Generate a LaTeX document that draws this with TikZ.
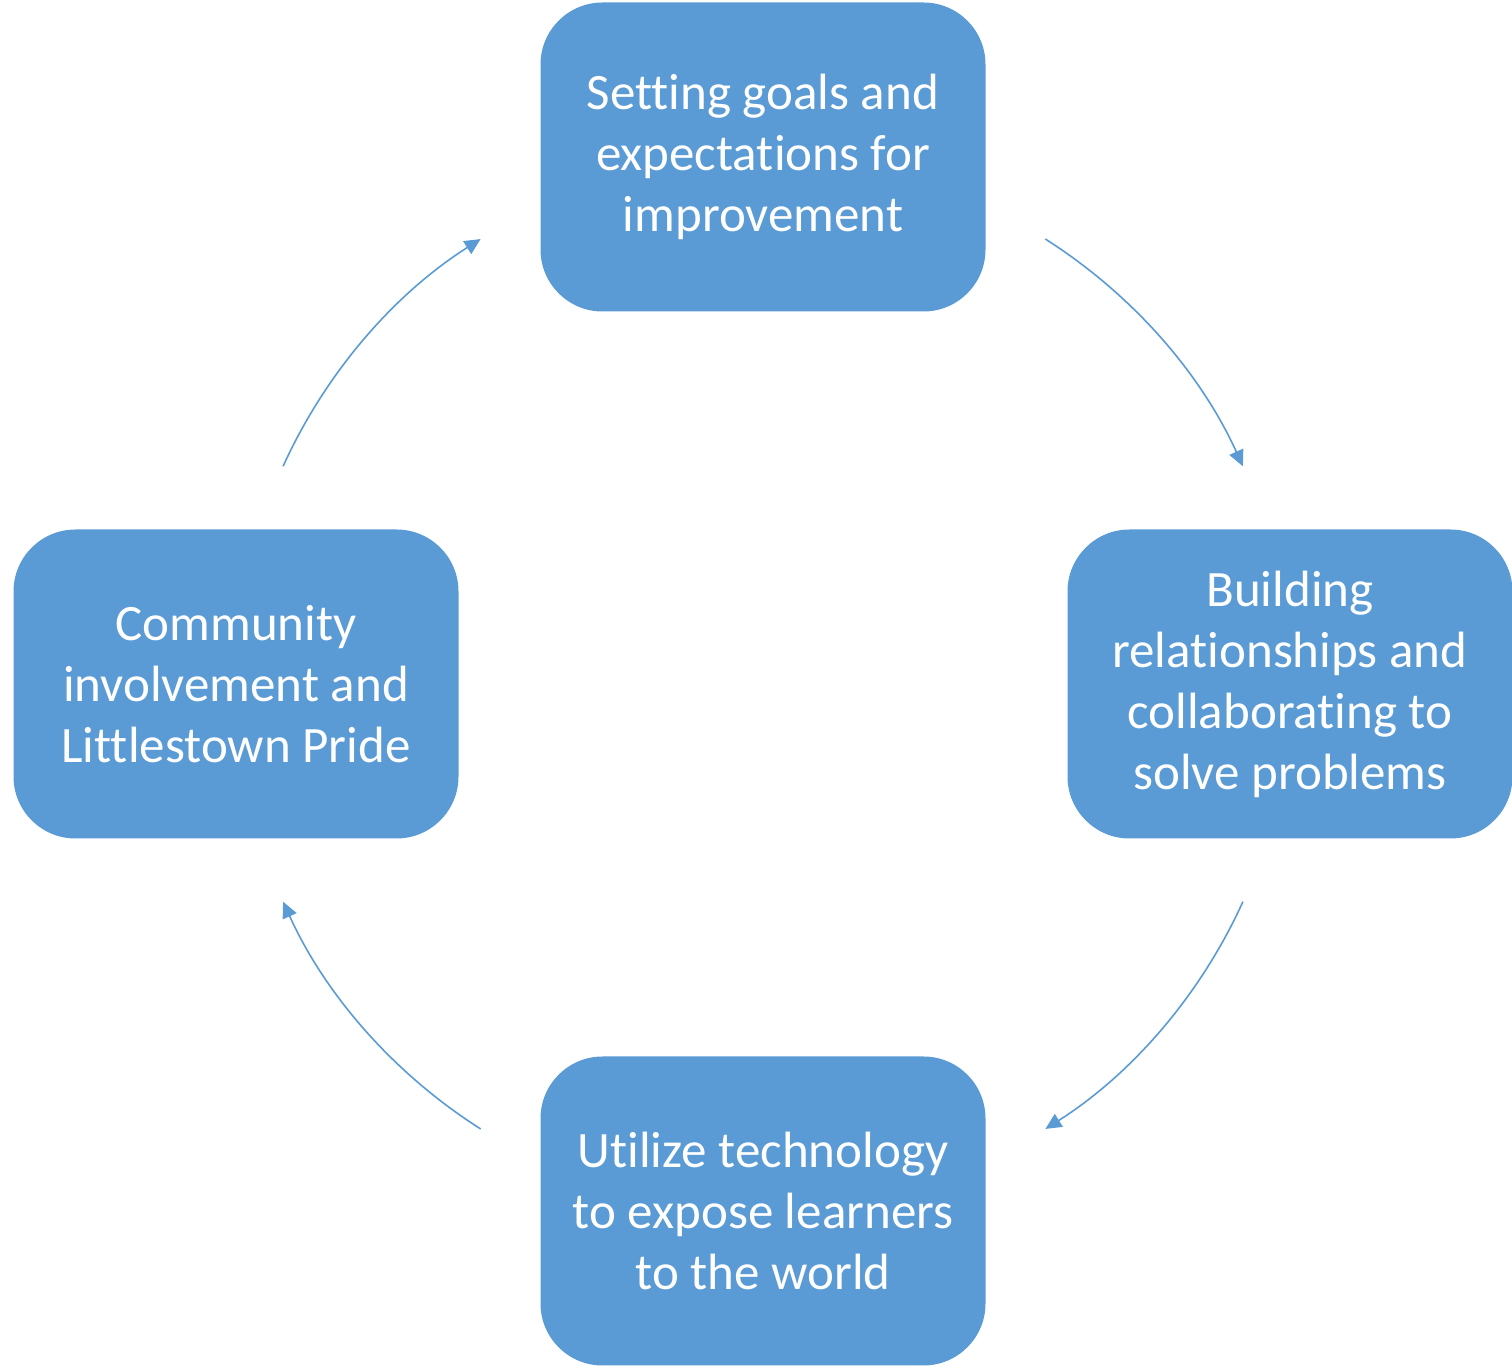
\documentclass[tikz,border=0pt]{standalone}
\usepackage{fontspec}
\setmainfont{Carlito}[Ligatures=NoCommon]
\usetikzlibrary{positioning}
\usetikzlibrary{arrows.meta}
\definecolor{officeblue}{HTML}{5B9BD5}
\tikzset{
    >={Triangle[length=8pt,width=7.5pt]}, % small filled heads
    stage/.style={rectangle, rounded corners=31pt, fill=officeblue, draw=none,
        minimum width=222.5pt, minimum height=154.5pt, align=center,
        text=white, font=\fontsize{25.5}{30.5}\selectfont},
    cycle arrow/.style={->, draw=officeblue, line width=0.8pt},
}

\begin{document}
\begin{tikzpicture}
            \useasboundingbox (0,0) rectangle (756pt,-684pt);
            \coordinate (hub) at (381.5pt,-342pt);

            % the four stages round the hub
            \node[stage] (settle) at ([yshift=263.5pt]hub) {Setting goals and\\expectations for\\improvement};
            \node[stage] (building) at ([xshift=263.5pt]hub) {Building\\relationships and\\collaborating to\\solve problems};
            \node[stage] (utilize) at ([yshift=-263.5pt]hub) {Utilize technology\\to expose learners\\to the world};
            \node[stage] (community) at ([xshift=-263.5pt]hub) {Community\\involvement and\\Littlestown Pride};

            % arcs between the stages
            \draw[cycle arrow] ([shift={(57.6:263.5pt)}]hub) arc[start angle=57.6, end angle=24.4, radius=263.5pt];
            \draw[cycle arrow] ([shift={(-24.4:263.5pt)}]hub) arc[start angle=-24.4, end angle=-57.6, radius=263.5pt];
            \draw[cycle arrow] ([shift={(-122.4:263.5pt)}]hub) arc[start angle=-122.4, end angle=-155.6, radius=263.5pt];
            \draw[cycle arrow] ([shift={(155.6:263.5pt)}]hub) arc[start angle=155.6, end angle=122.4, radius=263.5pt];
\end{tikzpicture}
\end{document}
